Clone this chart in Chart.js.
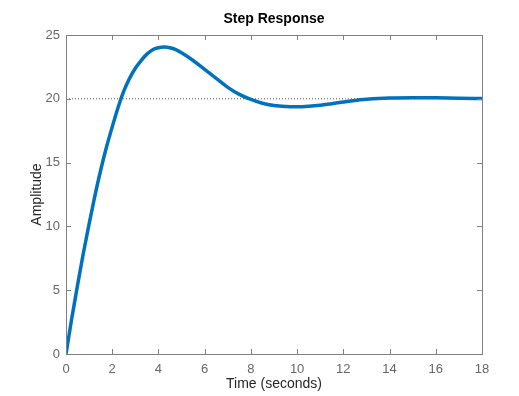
<!DOCTYPE html>
<html>
<head>
<meta charset="utf-8">
<script src="https://cdn.jsdelivr.net/npm/chart.js@4"></script>
<style>
  body { margin: 0; background: #fff; }
  canvas { display: block; }
</style>
</head>
<body>
<canvas id="graph" width="519" height="396"></canvas>
<script>
// step response
var time = [0, 0.25, 0.5, 0.75, 1, 1.25, 1.5, 1.75, 2, 2.25, 2.5, 2.75, 3, 3.25, 3.5, 3.75, 4, 4.25, 4.5, 4.75, 5, 5.5, 6, 6.5, 7, 7.5, 8, 8.5, 9, 9.5, 10, 10.5, 11, 11.5, 12, 12.5, 13, 13.5, 14, 15, 16, 17, 18];
var amplitude = [0, 2.8, 5.4, 7.9, 10.2, 12.4, 14.4, 16.2, 17.8, 19.3, 20.6, 21.6, 22.4, 23.0, 23.5, 23.85, 24.0, 24.05, 24.0, 23.85, 23.6, 23.0, 22.3, 21.6, 20.9, 20.35, 19.95, 19.65, 19.48, 19.4, 19.38, 19.42, 19.5, 19.62, 19.75, 19.87, 19.96, 20.03, 20.07, 20.09, 20.08, 20.04, 20.02];
var steadyState = 20;
var xTicks = [0, 2, 4, 6, 8, 10, 12, 14, 16, 18];
var yTicks = [0, 5, 10, 15, 20, 25];

var points = time.map(function (t, i) { return {x: t, y: amplitude[i]}; });
var refLine = [{x: xTicks[0], y: steadyState}, {x: xTicks[xTicks.length - 1], y: steadyState}];

var axisColor = '#808080';
var labelColor = '#666666';

// box round the axes plus inward ticks on all four sides
const boxPlugin = {
  id: 'box',
  afterDraw(chart) {
    const ctx = chart.ctx;
    const a = chart.chartArea;
    const xs = chart.scales.x, ys = chart.scales.y;
    ctx.save();
    ctx.strokeStyle = axisColor;
    ctx.lineWidth = 1;
    ctx.strokeRect(Math.round(a.left) + 0.5, Math.round(a.top) + 0.5, Math.round(a.right - a.left), Math.round(a.bottom - a.top));
    ctx.beginPath();
    xTicks.forEach(function (v) {
      const px = Math.round(xs.getPixelForValue(v)) + 0.5;
      ctx.moveTo(px, a.bottom); ctx.lineTo(px, a.bottom - 5);
      ctx.moveTo(px, a.top); ctx.lineTo(px, a.top + 5);
    });
    yTicks.forEach(function (v) {
      const py = Math.round(ys.getPixelForValue(v)) + 0.5;
      ctx.moveTo(a.left, py); ctx.lineTo(a.left + 5, py);
      ctx.moveTo(a.right, py); ctx.lineTo(a.right - 5, py);
    });
    ctx.stroke();
    ctx.restore();
  }
};

const config = {
  type: 'scatter',
  data: {
    datasets: [{
      label: 'Step',
      data: points,
      showLine: true,
      borderColor: '#0072BD',
      borderWidth: 3.5,
      pointRadius: 0,
      cubicInterpolationMode: 'monotone',
      order: 1
    }, {
      label: 'Steady state',
      data: refLine,
      showLine: true,
      borderColor: '#555555',
      borderWidth: 1,
      borderDash: [1, 2],
      pointRadius: 0,
      order: 2
    }]
  },
  options: {
    responsive: false,
    animation: false,
    devicePixelRatio: 1,
    layout: { padding: { top: 0, right: 37, bottom: 0, left: 0 } },
    plugins: {
      legend: { display: false },
      tooltip: { enabled: false },
      title: {
        display: true,
        text: 'Step Response',
        fullSize: false,
        color: '#000',
        font: { family: 'Liberation Sans', size: 14, weight: 'bold', lineHeight: 1.2 },
        padding: { top: 11, bottom: 7.2 }
      }
    },
    scales: {
      x: {
        type: 'linear',
        min: 0, max: 18,
        afterBuildTicks: function (scale) { scale.ticks = xTicks.map(function (v) { return {value: v}; }); },
        afterFit: function (scale) { scale.height = 42; },
        grid: { display: false, drawTicks: false },
        border: { display: false },
        ticks: { color: labelColor, padding: 8, maxRotation: 0, font: { family: 'Liberation Sans', size: 13 } },
        title: { display: true, text: 'Time (seconds)', color: '#262626', font: { family: 'Liberation Sans', size: 14 }, padding: { top: 0, bottom: 3 } }
      },
      y: {
        type: 'linear',
        min: 0, max: 25,
        afterBuildTicks: function (scale) { scale.ticks = yTicks.map(function (v) { return {value: v}; }); },
        afterFit: function (scale) { scale.width = 66; },
        grid: { display: false, drawTicks: false },
        border: { display: false },
        ticks: { color: labelColor, padding: 6, font: { family: 'Liberation Sans', size: 13 } },
        title: { display: true, text: 'Amplitude', color: '#262626', font: { family: 'Liberation Sans', size: 14 }, padding: { top: 29, bottom: 0 } }
      }
    }
  },
  plugins: [boxPlugin]
};

const stepChart = new Chart(document.getElementById('graph'), config);
</script>
</body>
</html>
